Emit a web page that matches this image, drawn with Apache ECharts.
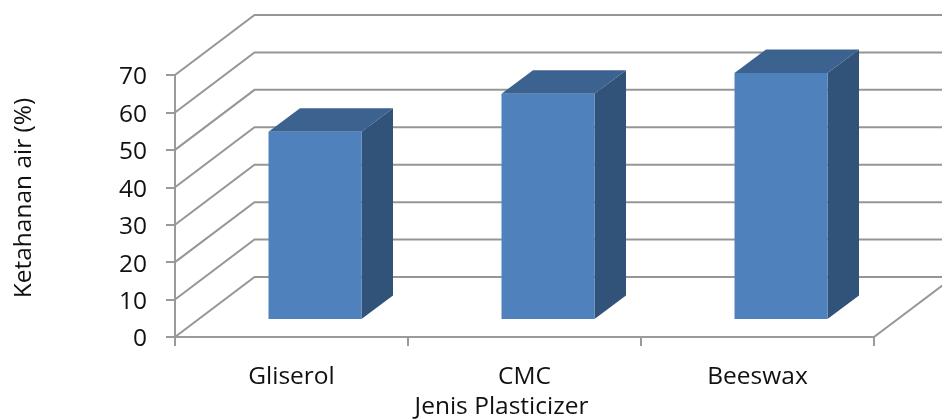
<!DOCTYPE html>
<html>
<head>
<meta charset="utf-8">
<style>html,body{margin:0;padding:0;background:#fff}#chart{width:942px;height:419px}</style>
<script src="https://cdn.jsdelivr.net/npm/echarts@6/dist/echarts.min.js"></script>
</head>
<body>
<div id="chart"></div>
<script>
// Water resistance by plasticizer type
var categories = ['Gliserol', 'CMC', 'Beeswax'];
var resistance = [50, 60.2, 65.7];
var yTicks = [0, 10, 20, 30, 40, 50, 60, 70];

var FONT = '"Open Sans", "Noto Sans", sans-serif';
// Oblique projection used for the pseudo-3D look
var WALL_DX = 79.5, WALL_DY = -60;
var BAR_SHIFT_X = 23.5, BAR_SHIFT_Y = -18;
var BAR_WIDTH = 93, BAR_DX = 31.5, BAR_DY = -23.5;
var GRID_STYLE = { stroke: '#969696', lineWidth: 2, fill: null };

function renderWall(params, api) {
  var box = params.coordSys;
  var y = api.coord([0, api.value(1)])[1];
  var left = box.x, right = box.x + box.width;
  var children = [{
    type: 'polyline',
    shape: { points: [[left, y], [left + WALL_DX, y + WALL_DY], [right + WALL_DX, y + WALL_DY]] },
    style: GRID_STYLE
  }];
  if (api.value(1) === 0) {
    children.push({
      type: 'line',
      shape: { x1: right, y1: y, x2: right + WALL_DX, y2: y + WALL_DY },
      style: GRID_STYLE
    });
  }
  return { type: 'group', children: children };
}

function renderBar(params, api) {
  var idx = api.value(0);
  var cx = api.coord([idx, 0])[0] + BAR_SHIFT_X;
  var bottom = api.coord([idx, 0])[1] + BAR_SHIFT_Y;
  var top = api.coord([idx, api.value(1)])[1] + BAR_SHIFT_Y;
  var l = cx - BAR_WIDTH / 2, r = cx + BAR_WIDTH / 2;
  return {
    type: 'group',
    children: [
      { type: 'polygon',
        shape: { points: [[r, top], [r + BAR_DX, top + BAR_DY], [r + BAR_DX, bottom + BAR_DY], [r, bottom]] },
        style: { fill: '#325379' } },
      { type: 'polygon',
        shape: { points: [[l, top], [l + BAR_DX, top + BAR_DY], [r + BAR_DX, top + BAR_DY], [r, top]] },
        style: { fill: '#3c6290' } },
      { type: 'rect',
        shape: { x: l, y: top, width: BAR_WIDTH, height: bottom - top },
        style: { fill: '#4f81bd' } }
    ]
  };
}

var chart = echarts.init(document.getElementById('chart'), null, { renderer: 'canvas' });
chart.setOption({
  animation: false,
  backgroundColor: '#ffffff',
  grid: { left: 175, right: 68, top: 75, bottom: 82, containLabel: false, outerBoundsMode: 'none' },
  xAxis: {
    type: 'category',
    data: categories,
    boundaryGap: true,
    name: 'Jenis Plasticizer',
    nameLocation: 'middle',
    nameGap: 56,
    nameTextStyle: { color: '#111', fontFamily: FONT, fontSize: 24.5, padding: [0, 46, 0, 0] },
    axisLine: { lineStyle: { color: '#9a9a9a', width: 2 } },
    axisTick: { show: true, alignWithLabel: false, length: 9, lineStyle: { color: '#9a9a9a', width: 2 } },
    axisLabel: { color: '#111', fontFamily: FONT, fontSize: 24.5, margin: 28 },
    splitLine: { show: false }
  },
  yAxis: {
    type: 'value',
    min: 0,
    max: 70,
    interval: 10,
    name: 'Ketahanan air (%)',
    nameLocation: 'middle',
    nameGap: 138,
    nameTextStyle: { color: '#111', fontFamily: FONT, fontSize: 24.5, padding: [0, 0, 0, 16] },
    axisLine: { show: true, lineStyle: { color: '#9a9a9a', width: 2 } },
    axisTick: { show: true, length: 9, lineStyle: { color: '#9a9a9a', width: 2 } },
    axisLabel: { color: '#111', fontFamily: FONT, fontSize: 24.5, margin: 28, verticalAlign: 'top', lineHeight: 5 },
    splitLine: { show: false }
  },
  series: [
    {
      type: 'custom',
      name: 'Dinding',
      silent: true,
      z: 1,
      renderItem: renderWall,
      data: yTicks.map(function (t) { return [0, t]; }),
      encode: { x: 0, y: 1 }
    },
    {
      type: 'custom',
      name: 'Ketahanan air',
      z: 3,
      renderItem: renderBar,
      data: resistance.map(function (v, i) { return [i, v]; }),
      encode: { x: 0, y: 1 }
    }
  ]
});
</script>
</body>
</html>
